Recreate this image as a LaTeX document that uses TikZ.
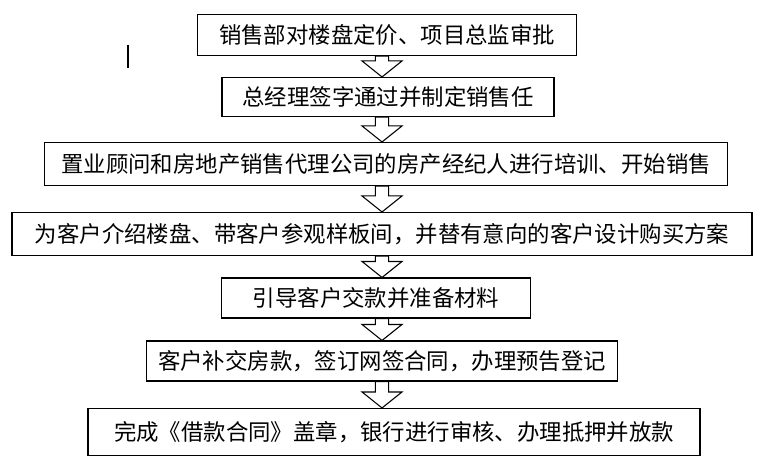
\documentclass[tikz,border=0pt]{standalone}
\usepackage{fontspec}
\setmainfont{Noto Sans CJK SC}
\usetikzlibrary{calc}
\tikzset{
  stepbox/.style={draw, thick, inner sep=0pt, font=\fontsize{16.8}{18}\selectfont},
  blockarrow/.style={draw, thick, fill=white, line join=miter}
}
% hollow down arrow from box #1 to box #2
\newcommand{\steparrow}[2]{%
  \draw[blockarrow] let \p1=($(#1.south -| axis)$), \p2=($(#2.north -| axis)$) in
    (\x1-5pt,\y1) -- (\x1+5pt,\y1) -- (\x1+5pt,\y2+12pt) -- (\x1+15pt,\y2+12pt) -- (\x2,\y2)
    -- (\x1-15pt,\y2+12pt) -- (\x1-5pt,\y2+12pt) -- cycle;}
\begin{document}
\begin{tikzpicture}[x=0.75pt, y=-0.75pt]
    \useasboundingbox (0,0) rectangle (762,466);
    \coordinate (axis) at (382,0);
    % boxes
    \node[stepbox, minimum width=379*0.75pt, minimum height=41*0.75pt] (pricing) at (387,35) {销售部对楼盘定价、项目总监审批};
    \node[stepbox, minimum width=332*0.75pt, minimum height=39*0.75pt] (approve) at (388,97) {总经理签字通过并制定销售任};
    \node[stepbox, minimum width=683*0.75pt, minimum height=43*0.75pt] (training) at (386,164) {置业顾问和房地产销售代理公司的房产经纪人进行培训、开始销售};
    \node[stepbox, minimum width=740*0.75pt, minimum height=43*0.75pt] (showing) at (382,234) {为客户介绍楼盘、带客户参观样板间，并替有意向的客户设计购买方案};
    \node[stepbox, minimum width=309*0.75pt, minimum height=40*0.75pt] (payment) at (376,298) {引导客户交款并准备材料};
    \node[stepbox, minimum width=471*0.75pt, minimum height=40*0.75pt] (contract) at (382,361) {客户补交房款，签订网签合同，办理预告登记};
    \node[stepbox, minimum width=612*0.75pt, minimum height=47*0.75pt] (loan) at (394,432) {完成《借款合同》盖章，银行进行审核、办理抵押并放款};
    % stray mark
    \draw[thick] (128,45) -- (128,68);
    % arrows
    \steparrow{pricing}{approve}
    \steparrow{approve}{training}
    \steparrow{training}{showing}
    \steparrow{showing}{payment}
    \steparrow{payment}{contract}
    \steparrow{contract}{loan}
\end{tikzpicture}
\end{document}
